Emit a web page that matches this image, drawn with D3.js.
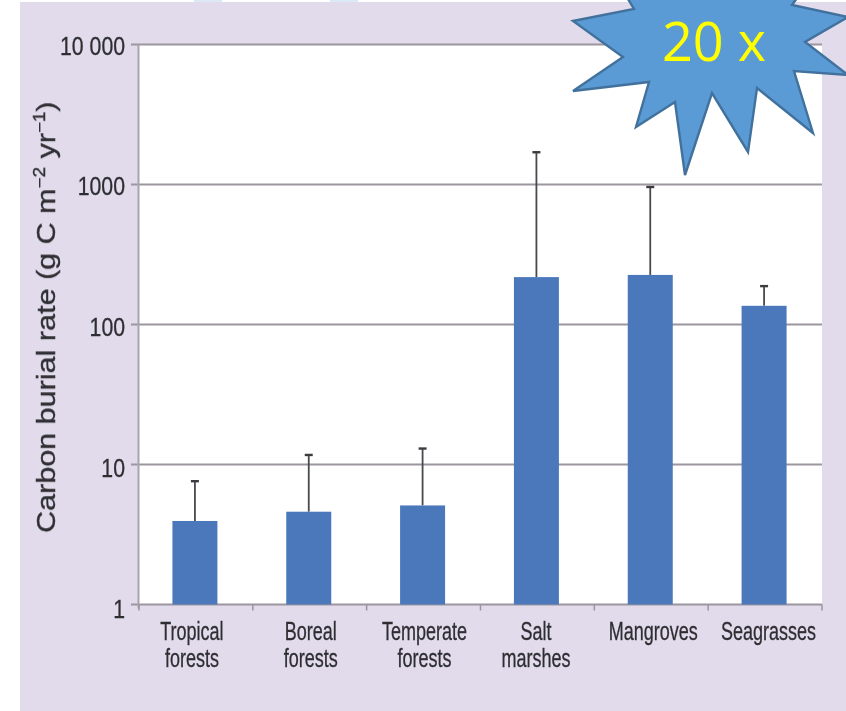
<!DOCTYPE html>
<html><head><meta charset="utf-8">
<script src="https://cdn.jsdelivr.net/npm/d3@7"></script>
<style>html,body{margin:0;padding:0;background:#fff}svg{display:block}text{font-family:"Liberation Sans",Arial,sans-serif}</style>
</head><body><svg id="c" width="846" height="711"></svg>
<script>
const categories=[["Tropical","forests"],["Boreal","forests"],["Temperate","forests"],["Salt","marshes"],["Mangroves"],["Seagrasses"]];
const values=[3.95,4.6,5.1,218,226,136];
const errorTops=[7.6,11.7,13,1700,960,188];
const yTicks=[1,10,100,1000,10000];
const yTickLabels=["1","10","100","1000","10 000"];
const labelShift=[-3,2,2,-0.5,3,4.5];
const starPoints=[[625,-6],[634,9],[573,21],[623,57],[573,91],[649,82],[636,127],[675,102],[685,175],[712,93],[748,152],[757,88],[813,133],[794,71],[848,75],[805,42],[848,17],[792,5],[800,-6]];

const svg=d3.select("#c");
const defs=svg.append("defs");
defs.append("filter").attr("id","soft").append("feGaussianBlur").attr("stdDeviation",0.5);

svg.append("rect").attr("x",194).attr("y",0).attr("width",28).attr("height",2).attr("fill","#dbe8f5");
svg.append("rect").attr("x",330).attr("y",0).attr("width",28).attr("height",2).attr("fill","#dbe8f5");
svg.append("rect").attr("x",20).attr("y",2).attr("width",826).attr("height",709).attr("fill","#e1dbeb");

const x=d3.scaleBand().domain(d3.range(categories.length)).range([139,822]);
const y=d3.scaleLog().domain([1,10000]).range([604.5,44.5]);
const yLabel=d3.scaleLog().domain([1,10000]).range([617.5,54.5]);
const barW=45;

svg.append("rect").attr("x",139).attr("y",y(10000)).attr("width",683).attr("height",y(1)-y(10000)).attr("fill","#fff");

svg.append("g").selectAll("line").data(yTicks).join("line")
 .attr("x1",131).attr("x2",822).attr("y1",d=>y(d)).attr("y2",d=>y(d))
 .attr("stroke","#9c969f").attr("stroke-width",2);
svg.append("line").attr("x1",138.5).attr("x2",138.5).attr("y1",y(10000)).attr("y2",y(1)+4).attr("stroke","#a9a3b0").attr("stroke-width",2);
svg.append("g").selectAll("line").data(d3.range(categories.length+1)).join("line")
 .attr("x1",i=>139+i*x.bandwidth()).attr("x2",i=>139+i*x.bandwidth())
 .attr("y1",y(1)).attr("y2",y(1)+6).attr("stroke","#9c969f").attr("stroke-width",1.5);

const cx=i=>x(i)+x.bandwidth()/2-1;
svg.append("g").selectAll("line").data(values).join("line")
 .attr("x1",(d,i)=>cx(i)).attr("x2",(d,i)=>cx(i)).attr("y1",d=>y(d)).attr("y2",(d,i)=>y(errorTops[i]))
 .attr("stroke","#4a4a4e").attr("stroke-width",1.8);
svg.append("g").selectAll("line").data(errorTops).join("line")
 .attr("x1",(d,i)=>cx(i)-4).attr("x2",(d,i)=>cx(i)+4).attr("y1",d=>y(d)).attr("y2",d=>y(d))
 .attr("stroke","#3c3c40").attr("stroke-width",2.4);
svg.append("g").selectAll("rect").data(values).join("rect")
 .attr("x",(d,i)=>cx(i)-barW/2).attr("width",barW).attr("y",d=>y(d)).attr("height",d=>y(1)-y(d)).attr("fill","#4a78bb");

const txt=svg.append("g").attr("filter","url(#soft)").attr("fill","#2e2e33").attr("stroke","#2e2e33").attr("stroke-width",0.3);
txt.selectAll("text.y").data(yTicks).join("text").attr("class","y")
 .attr("text-anchor","end").attr("font-size",25)
 .attr("transform",d=>`translate(125,${yLabel(d)}) scale(0.85,1)`)
 .text((d,i)=>yTickLabels[i]);
categories.forEach((lines,i)=>{
 lines.forEach((s,j)=>{
  txt.append("text").attr("text-anchor","middle").attr("font-size",25)
   .attr("transform",`translate(${cx(i)+labelShift[i]},${640+j*27}) scale(0.72,1)`).text(s);
 });
});
const lab=txt.append("text").attr("transform","translate(55,533) rotate(-90) scale(1.175,1)").attr("font-size",26);
lab.append("tspan").text("Carbon burial rate (g C m");
lab.append("tspan").attr("dy",-10).attr("font-size",16).text("−2");
lab.append("tspan").attr("dy",10).text(" yr");
lab.append("tspan").attr("dy",-10).attr("font-size",16).text("−1");
lab.append("tspan").attr("dy",10).text(")");

svg.append("path").attr("d",d3.line()(starPoints)+"Z").attr("fill","#5b9bd5").attr("stroke","#41719c").attr("stroke-width",2.4);
svg.append("text").attr("x",714).attr("y",61).attr("text-anchor","middle").attr("font-size",54)
 .style("font-family","'Open Sans',sans-serif").attr("fill","#ffff00").text("20 x");
</script></body></html>
